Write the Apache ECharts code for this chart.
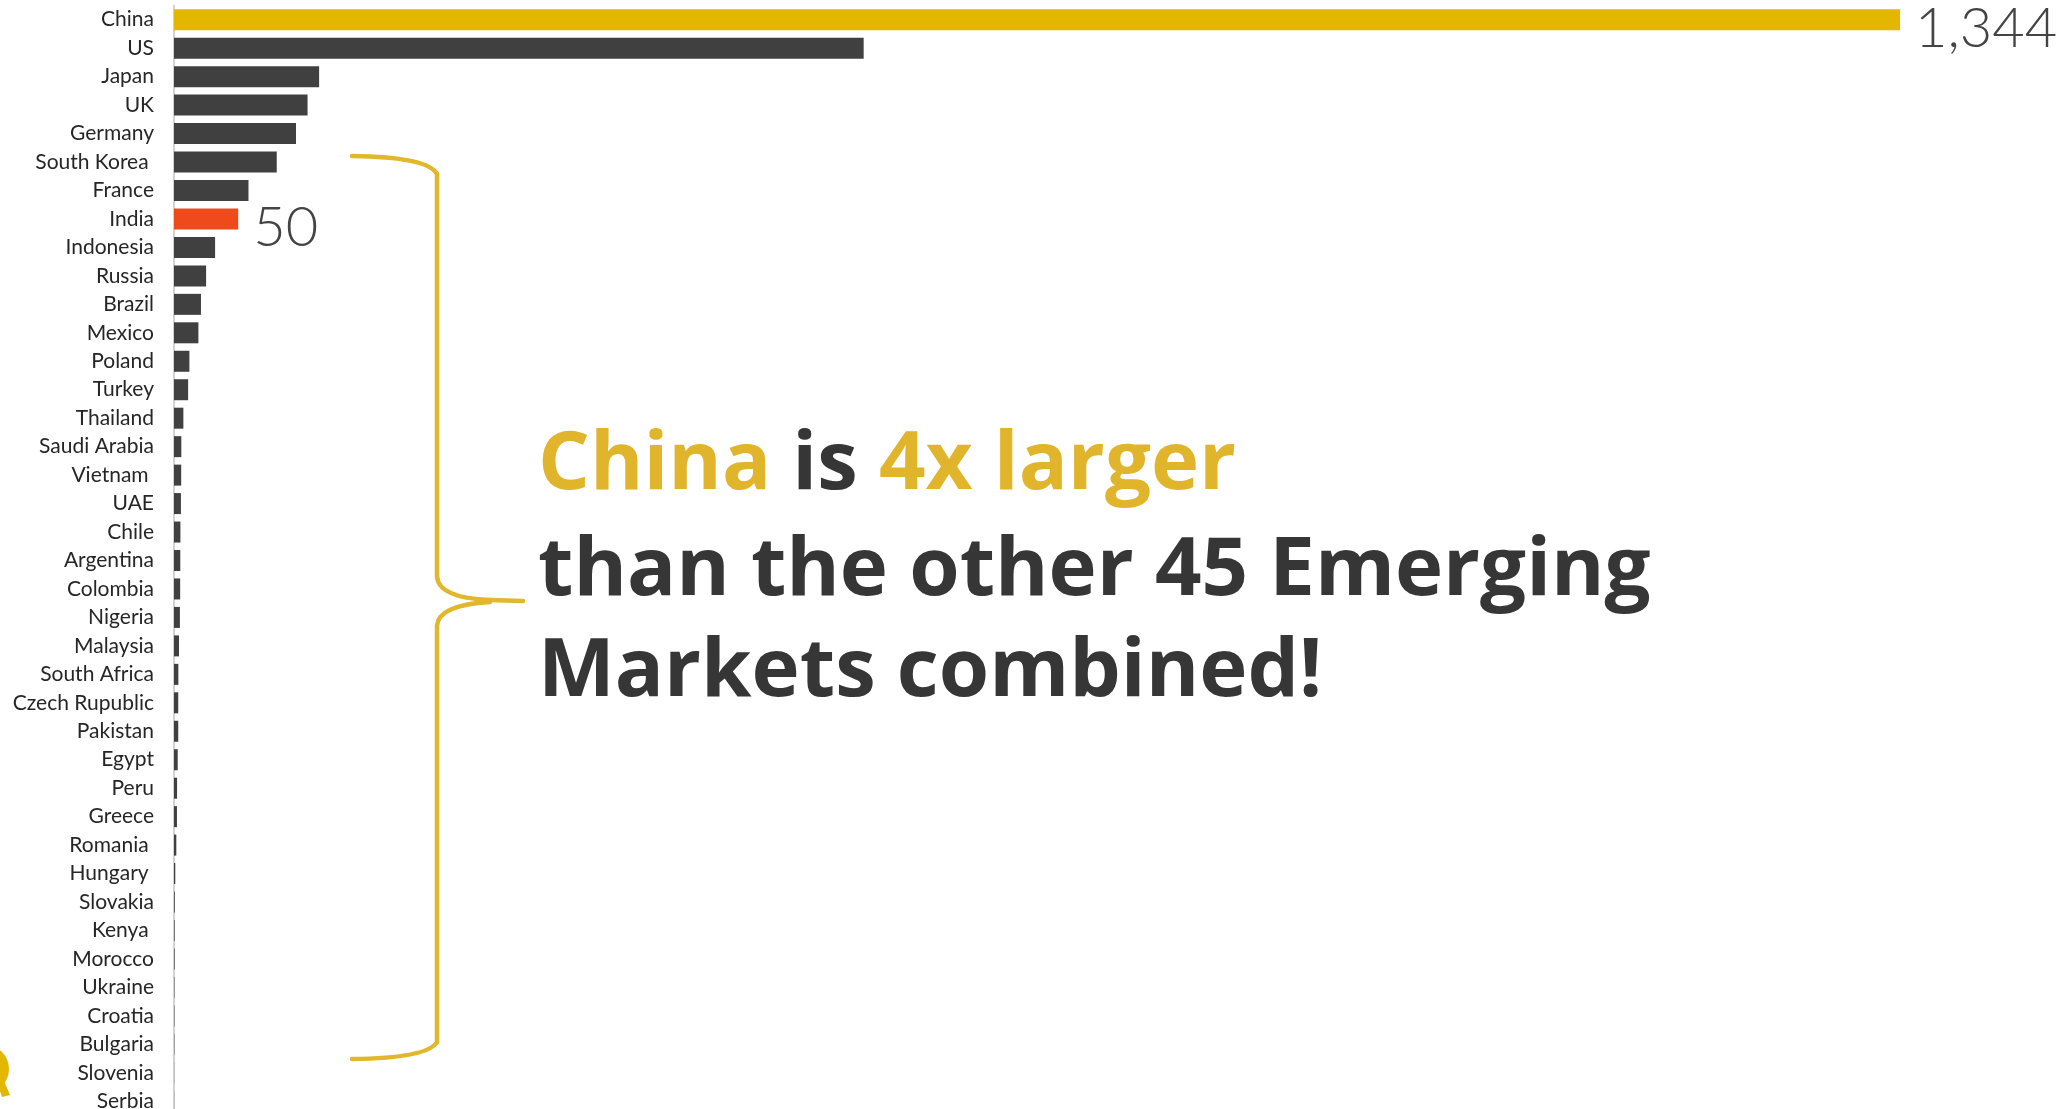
<!DOCTYPE html>
<html>
<head>
<meta charset="utf-8">
<title>China vs Emerging Markets</title>
<script src="https://cdn.jsdelivr.net/npm/echarts@6/dist/echarts.min.js"></script>
<style>
  html, body { margin: 0; padding: 0; background: #ffffff; }
  #chart { width: 2072px; height: 1109px; }
</style>
</head>
<body>
<div id="chart"></div>
<script>
// Country names (trailing spaces kept as they appear in the labels)
const countries = [
  'China', 'US', 'Japan', 'UK', 'Germany', 'South Korea ', 'France', 'India',
  'Indonesia', 'Russia', 'Brazil', 'Mexico', 'Poland', 'Turkey', 'Thailand',
  'Saudi Arabia', 'Vietnam ', 'UAE', 'Chile', 'Argentina', 'Colombia', 'Nigeria',
  'Malaysia', 'South Africa', 'Czech Rupublic', 'Pakistan', 'Egypt', 'Peru',
  'Greece', 'Romania ', 'Hungary ', 'Slovakia', 'Kenya ', 'Morocco', 'Ukraine',
  'Croatia', 'Bulgaria', 'Slovenia', 'Serbia'
];

// Value per country
const values = [
  1344, 537, 113, 104, 95, 80, 58, 50,
  32, 25, 21, 19, 12, 11, 7.3,
  5.7, 5.6, 5.4, 5.0, 4.9, 4.8, 4.6,
  3.9, 3.4, 3.3, 3.3, 2.9, 2.4,
  2.3, 1.8, 1.0, 0.6, 0.5, 0.5, 0.3,
  0.3, 0.25, 0.1, 0.1
];

// Bars that carry a value label
const labelledCountries = ['China', 'India'];

// Headline lines
const headlineLine1 = [['China', 'g'], [' is ', 'd'], ['4x larger', 'g']];
const headlineLine2 = 'than the other 45 Emerging';
const headlineLine3 = 'Markets combined!';

const GOLD = '#E3B700';
const TEXT_GOLD = '#E0B52B';
const ORANGE = '#EE4A1B';
const BAR = '#404040';
const DARK_TEXT = '#363636';
const BRACKET = '#E2B72C';

const barColors = { 'China': GOLD, 'India': ORANGE };

const valueLabel = {
  show: true,
  position: 'right',
  distance: 15,
  offset: [0, 9],
  fontFamily: 'Lato',
  fontWeight: 300,
  fontSize: 56,
  color: '#444444',
  formatter: p => Number(p.value).toLocaleString('en-US')
};

const seriesData = countries.map((name, i) => {
  const key = name.trim();
  const item = {
    value: values[i],
    itemStyle: { color: barColors[key] || BAR }
  };
  if (labelledCountries.includes(key)) item.label = valueLabel;
  return item;
});

const HEAD_SIZE = 81.5;
const headFont = { fontFamily: 'Open Sans', fontWeight: 700, fontSize: HEAD_SIZE };

const bracketStyle = { stroke: BRACKET, lineWidth: 4.5, fill: null, lineCap: 'round' };

const chart = echarts.init(document.getElementById('chart'), null, { renderer: 'canvas' });

chart.setOption({
  backgroundColor: '#ffffff',
  animation: false,
  grid: {
    left: 174,
    top: 5.5,
    width: 1798,
    height: 1110,
    containLabel: false,
    outerBoundsMode: 'none'
  },
  xAxis: {
    type: 'value',
    min: 0,
    max: 1400,
    show: false
  },
  yAxis: {
    type: 'category',
    inverse: true,
    data: countries,
    axisLine: { show: true, lineStyle: { color: '#d2d2d2', width: 2 } },
    axisTick: { show: false },
    splitLine: { show: false },
    axisLabel: {
      fontFamily: 'Lato',
      fontSize: 21,
      color: '#262626',
      margin: 20,
      interval: 0
    }
  },
  series: [{
    type: 'bar',
    data: seriesData,
    barWidth: 21,
    label: { show: false },
    z: 1
  }],
  graphic: [
    // curly bracket grouping the other markets
    { type: 'bezierCurve', shape: { x1: 352, y1: 156, cpx1: 428, cpy1: 157, x2: 437, y2: 174 }, style: bracketStyle },
    { type: 'line', shape: { x1: 437, y1: 174, x2: 437, y2: 576 }, style: bracketStyle },
    { type: 'bezierCurve', shape: { x1: 437, y1: 576, cpx1: 438, cpy1: 598, x2: 490, y2: 600 }, style: bracketStyle },
    { type: 'line', shape: { x1: 490, y1: 600, x2: 523, y2: 601 }, style: bracketStyle },
    { type: 'bezierCurve', shape: { x1: 490, y1: 602, cpx1: 438, cpy1: 605, x2: 437, y2: 626 }, style: bracketStyle },
    { type: 'line', shape: { x1: 437, y1: 626, x2: 437, y2: 1042 }, style: bracketStyle },
    { type: 'bezierCurve', shape: { x1: 437, y1: 1042, cpx1: 428, cpy1: 1058, x2: 352, y2: 1059 }, style: bracketStyle },

    // headline
    {
      type: 'text', x: 538, y: 466,
      style: {
        text: headlineLine1.map(([t, k]) => '{' + k + '|' + t + '}').join(''),
        align: 'left', verticalAlign: 'middle',
        fontFamily: headFont.fontFamily, fontWeight: headFont.fontWeight, fontSize: headFont.fontSize,
        fill: DARK_TEXT,
        rich: {
          g: { fill: TEXT_GOLD, fontFamily: headFont.fontFamily, fontWeight: 700, fontSize: HEAD_SIZE },
          d: { fill: DARK_TEXT, fontFamily: headFont.fontFamily, fontWeight: 700, fontSize: HEAD_SIZE }
        }
      }
    },
    {
      type: 'text', x: 538, y: 572,
      style: {
        text: headlineLine2, align: 'left', verticalAlign: 'middle',
        fontFamily: headFont.fontFamily, fontWeight: headFont.fontWeight, fontSize: headFont.fontSize,
        fill: DARK_TEXT
      }
    },
    {
      type: 'text', x: 538, y: 673,
      style: {
        text: headlineLine3, align: 'left', verticalAlign: 'middle',
        fontFamily: headFont.fontFamily, fontWeight: headFont.fontWeight, fontSize: headFont.fontSize,
        fill: DARK_TEXT
      }
    },

    // corner logo mark, partly off the left edge
    { type: 'ring', shape: { cx: -15, cy: 1069, r: 24, r0: 11 }, style: { fill: GOLD } },
    { type: 'polygon', shape: { points: [[-3, 1082], [4, 1081], [10, 1095], [2, 1097]] }, style: { fill: GOLD } }
  ]
});
</script>
</body>
</html>
